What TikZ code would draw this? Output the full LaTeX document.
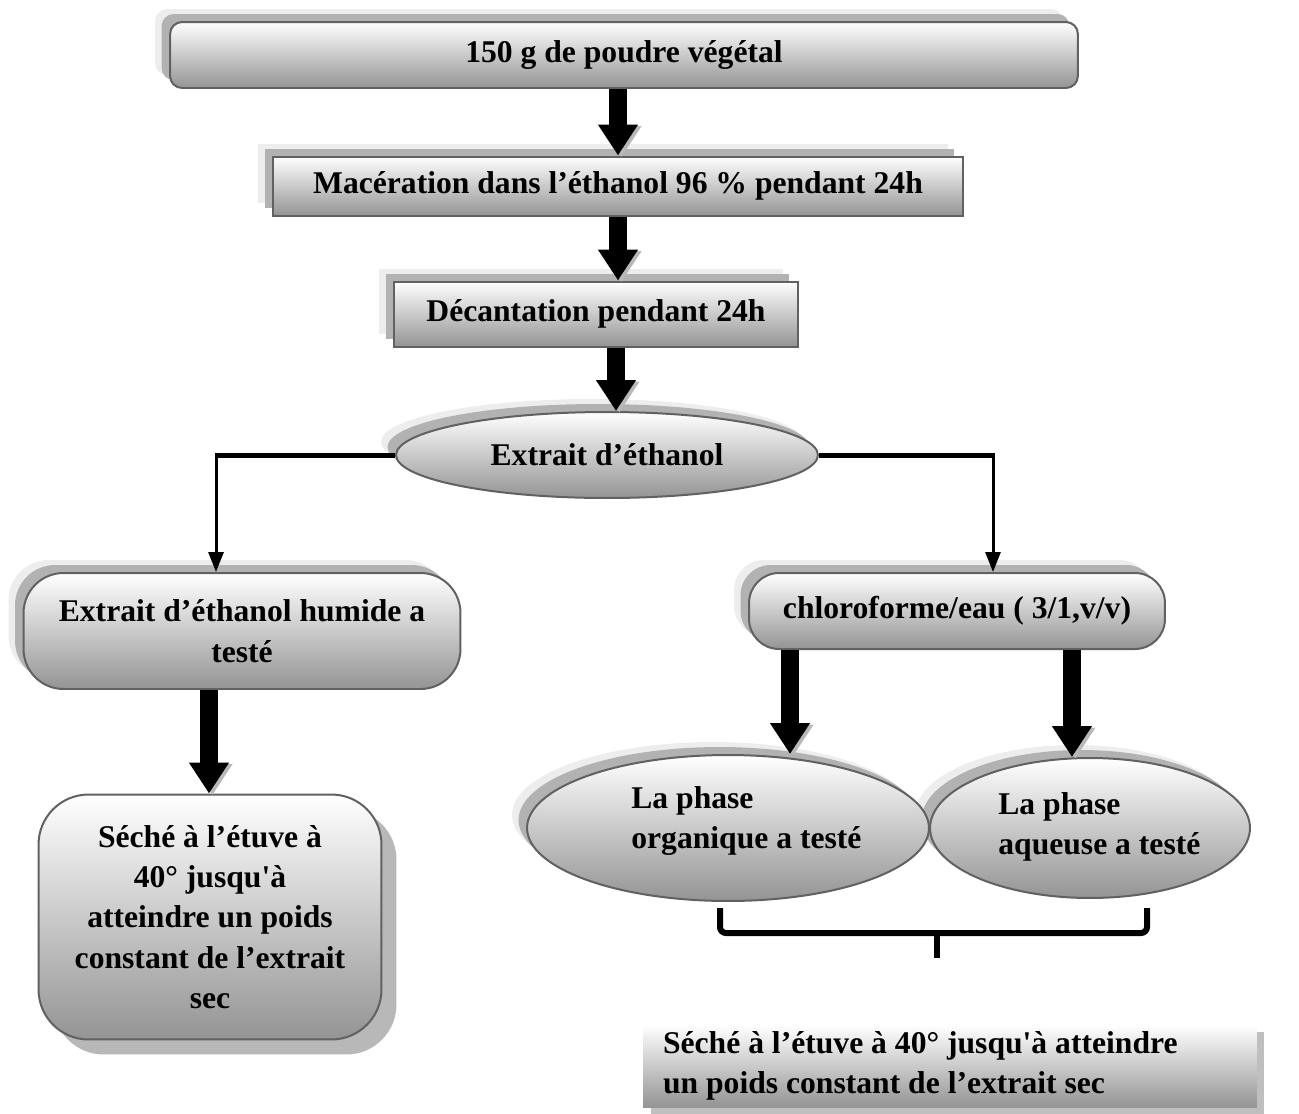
\documentclass[tikz,border=0pt]{standalone}
\usepackage{fontspec}
\setmainfont{Liberation Serif}[Ligatures=TeXOff]
\usetikzlibrary{arrows.meta,shapes.geometric,shadows}
\begin{document}
\begin{tikzpicture}[x=0.02cm,y=-0.02cm,
  font=\fontsize{18}{23}\selectfont\bfseries,
  base/.style={draw=black!62, line width=0.04cm, top color=white, bottom color=black!42, inner sep=0pt, align=center},
  shUL/.style={general shadow={fill=black!7, shadow xshift=-0.3cm, shadow yshift=0.26cm},
               general shadow={fill=black!30, shadow xshift=-0.17cm, shadow yshift=0.16cm}},
  shDR/.style={general shadow={fill=black!28, shadow xshift=0.3cm, shadow yshift=-0.3cm}},
  shFin/.style={general shadow={fill=black!25, shadow xshift=0.15cm, shadow yshift=-0.14cm}},
  blk/.style={line width=0.36cm, -{Triangle[length=0.62cm,width=0.76cm]},
              preaction={draw=black!28, transform canvas={xshift=0.07cm,yshift=-0.03cm}}},
  thinarr/.style={line width=0.06cm, -{Triangle[length=0.4cm,width=0.3cm]}},
  hline/.style={line width=0.1cm},
  bracel/.style={line width=0.12cm, rounded corners=0.12cm}
]
\useasboundingbox (0,0) rectangle (1299,1113);

\node[base, shUL, rounded corners=0.24cm, minimum width=18.16cm, minimum height=1.32cm] (top) at (624,55) {150 g de poudre végétal};
\node[base, shUL, minimum width=13.8cm, minimum height=1.18cm] (mac) at (618,186) {Macération dans l’éthanol 96 \% pendant 24h};
\node[base, shUL, minimum width=8.08cm, minimum height=1.3cm] (dec) at (596,314) {Décantation pendant 24h};
\node[base, shUL, ellipse, minimum width=8.44cm, minimum height=1.72cm] (ext) at (607,455) {Extrait d’éthanol};

\node[base, shUL, rounded corners=0.8cm, minimum width=8.74cm, minimum height=2.32cm] (hum) at (242,631) {Extrait d’éthanol humide a\\testé};
\node[base, shUL, rounded corners=0.6cm, minimum width=8.32cm, minimum height=1.52cm] (chl) at (957,611) {chloroforme/eau ( 3/1,v/v)};
\node[base, shDR, rounded corners=1cm, minimum width=6.86cm, minimum height=4.9cm] (sec) at (210,917) {Séché à l’étuve à\\40° jusqu'à\\atteindre un poids\\constant de l’extrait\\sec};

\node[base, shUL, ellipse, minimum width=6.4cm, minimum height=2.8cm] (aq) at (1090,828) {};
\node[base, shUL, ellipse, minimum width=8.04cm, minimum height=2.92cm] (org) at (728,828) {};
\node[anchor=north west, align=left, inner sep=0pt] (orgt) at (631,786) {La phase\\organique a testé};
\node[anchor=north west, align=left, inner sep=0pt] (aqt) at (998,792) {La phase\\aqueuse a testé};

\node[shFin, top color=white, bottom color=black!42, inner sep=0pt, minimum width=12.28cm, minimum height=1.64cm, text width=11.48cm, align=flush left] (fin) at (950,1066) {Séché à l’étuve à 40° jusqu'à atteindre\\un poids constant de l’extrait sec};

% block arrows
\draw[blk] (top.south -| mac.north) -- (mac.north);
\draw[blk] (mac.south) -- (mac.south |- dec.north);
\draw[blk] ([xshift=0.4cm]dec.south) -- ([xshift=0.4cm]dec.south |- ext.north);
\draw[blk] ([xshift=-0.66cm]hum.south) -- ([xshift=-0.66cm]hum.south |- sec.north);
\draw[blk] ([xshift=-3.34cm]chl.south) -- ([xshift=-3.34cm]chl.south |- org.north);
\draw[blk] ([xshift=2.3cm]chl.south) -- ([xshift=2.3cm]chl.south |- aq.north);

% thin connectors
\coordinate (lc) at ([xshift=-0.52cm]hum.north |- ext.west);
\coordinate (rc) at ([xshift=0.72cm]chl.north |- ext.east);
\draw[hline] (ext.west) -- ([xshift=-0.03cm]lc);
\draw[hline] (ext.east) -- ([xshift=0.03cm]rc);
\draw[thinarr] (lc) -- ([xshift=-0.52cm]hum.north);
\draw[thinarr] (rc) -- ([xshift=0.72cm]chl.north);

% brace
\coordinate (bl) at (720,908);
\coordinate (br) at (1147,908);
\coordinate (bm) at (937,933);
\coordinate (bt) at (937,958);
\draw[bracel] (bl) -- (bl |- bm) -- (br |- bm) -- (br);
\draw[line width=0.12cm] (bm) -- (bt);
\end{tikzpicture}
\end{document}
